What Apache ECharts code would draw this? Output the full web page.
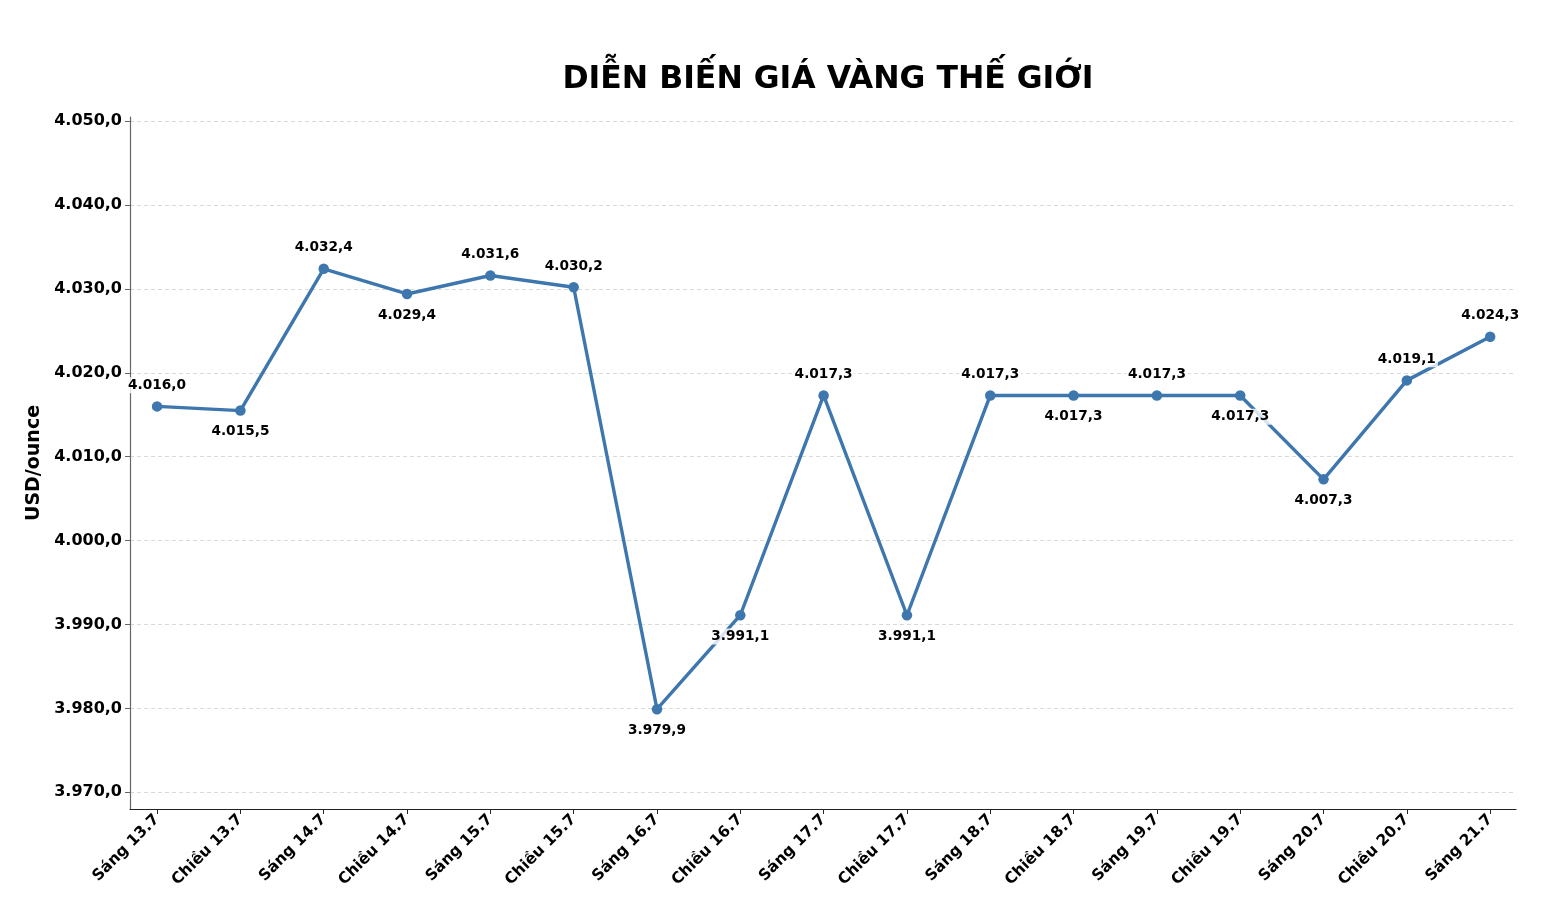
<!DOCTYPE html>
<html>
<head>
<meta charset="utf-8">
<script src="https://cdn.jsdelivr.net/npm/echarts@6/dist/echarts.min.js"></script>
<style>
html,body{margin:0;padding:0;background:#fff;}
#chart{width:1548px;height:924px;}
</style>
</head>
<body>
<div id="chart"></div>
<script>
// ---- data ----
const titleText = 'DIỄN BIẾN GIÁ VÀNG THẾ GIỚI';
const yAxisName = 'USD/ounce';
const categories = ['Sáng 13.7','Chiều 13.7','Sáng 14.7','Chiều 14.7','Sáng 15.7','Chiều 15.7','Sáng 16.7','Chiều 16.7','Sáng 17.7','Chiều 17.7','Sáng 18.7','Chiều 18.7','Sáng 19.7','Chiều 19.7','Sáng 20.7','Chiều 20.7','Sáng 21.7'];
const prices = [4016.0, 4015.5, 4032.4, 4029.4, 4031.6, 4030.2, 3979.9, 3991.1, 4017.3, 3991.1, 4017.3, 4017.3, 4017.3, 4017.3, 4007.3, 4019.1, 4024.3];
const yTicks = [3970, 3980, 3990, 4000, 4010, 4020, 4030, 4040, 4050];

// ---- style ----
const labelSide = ['top','bottom','top','bottom','top','top','bottom','bottom','top','bottom','top','bottom','top','bottom','bottom','top','top'];
const lineColor = '#3D77AE';
const font = 'DejaVu Sans';

function fmt(v){
  const parts = Number(v).toFixed(1).split('.');
  const intPart = parts[0].replace(/\B(?=(\d{3})+(?!\d))/g, '.');
  return intPart + ',' + parts[1];
}

const chart = echarts.init(document.getElementById('chart'), null, {renderer:'canvas'});
const xIdx = categories.map((_, i) => i);
chart.setOption({
  animation: false,
  backgroundColor: '#ffffff',
  title: {
    text: titleText,
    left: 823, top: 59, textAlign: 'center',
    textStyle: {fontFamily: font, fontWeight: 'bold', fontSize: 31.5, color: '#000'}
  },
  grid: {left: 130, right: 32, top: 117, bottom: 115, outerBoundsMode: 'none'},
  xAxis: {
    type: 'value', min: -0.325, max: 16.31,
    axisLine: {show: true, onZero: false, lineStyle: {color: '#222', width: 1.2}},
    axisTick: {show: true, length: 5, lineStyle: {color: '#222'}, customValues: xIdx},
    axisLabel: {
      customValues: xIdx, rotate: 45, margin: 8,
      fontFamily: font, fontWeight: 'bold', fontSize: 15.5, color: '#000',
      formatter: v => categories[Math.round(v)]
    },
    splitLine: {show: false}
  },
  yAxis: {
    type: 'value', min: 3968, max: 4050.5,
    name: yAxisName, nameLocation: 'middle', nameGap: 79,
    nameTextStyle: {fontFamily: font, fontWeight: 'bold', fontSize: 19, color: '#000'},
    axisLine: {show: true, onZero: false, lineStyle: {color: '#666', width: 1.2}},
    axisTick: {show: true, length: 5, lineStyle: {color: '#666'}, customValues: yTicks},
    axisLabel: {
      customValues: yTicks, margin: 8,
      fontFamily: font, fontWeight: 'bold', fontSize: 16, color: '#000',
      formatter: v => fmt(v)
    },
    splitLine: {show: true, lineStyle: {color: '#d9d9d9', type: [4, 3], width: 1}}
  },
  series: [{
    type: 'line',
    data: prices.map((v, i) => ({value: [i, v], label: {position: labelSide[i]}})),
    symbol: 'circle', symbolSize: 10.5,
    lineStyle: {color: lineColor, width: 3.4},
    itemStyle: {color: lineColor},
    label: {
      show: true, distance: 8,
      fontFamily: font, fontWeight: 'bold', fontSize: 13.7, color: '#000',
      backgroundColor: 'rgba(255,255,255,0.8)', padding: [1, 2],
      formatter: p => fmt(p.value[1])
    },
    z: 3
  }]
});
</script>
</body>
</html>
